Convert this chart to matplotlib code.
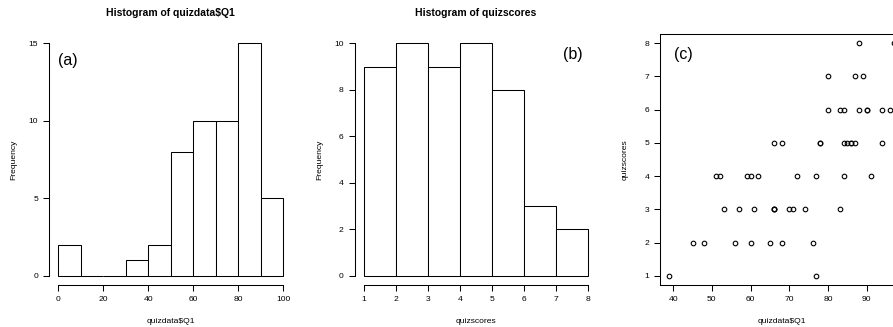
import numpy as np
import matplotlib
matplotlib.use("Agg")
import matplotlib.pyplot as plt

plt.rcParams["font.family"] = ["Liberation Sans", "DejaVu Sans"]

# histogram of quiz 1 percentages
q1_edges = [0, 10, 20, 30, 40, 50, 60, 70, 80, 90, 100]
q1_counts = [2, 0, 0, 1, 2, 8, 10, 10, 15, 5]

# histogram of total quiz scores
score_edges = [1, 2, 3, 4, 5, 6, 7, 8]
score_counts = [9, 10, 9, 10, 8, 3, 2]

# paired observations: quiz 1 percentage vs quiz score
q1_pct = [39, 77,
          45, 48, 56, 60, 65, 68, 76,
          53, 57, 61, 66, 66, 66, 70, 71, 74, 83,
          51, 52, 59, 60, 62, 72, 77, 84, 91,
          66, 68, 78, 78, 84, 85, 86, 86, 87, 94,
          80, 83, 84, 88, 90, 90, 94, 96,
          80, 87, 89,
          88, 97]
quiz_scores = [1, 1,
               2, 2, 2, 2, 2, 2, 2,
               3, 3, 3, 3, 3, 3, 3, 3, 3, 3,
               4, 4, 4, 4, 4, 4, 4, 4, 4,
               5, 5, 5, 5, 5, 5, 5, 5, 5, 5,
               6, 6, 6, 6, 6, 6, 6, 6,
               7, 7, 7,
               8, 8]

W, H = 893, 327
fig = plt.figure(figsize=(W / 100, H / 100), dpi=100)

LW = 0.75
TICK_FS = 6.1
LABEL_FS = 6.1
TITLE_FS = 7.5
TAG_FS = 11.5


def axes_at(left_px, right_px, top_px=34, bottom_px=285):
    return fig.add_axes([left_px / W, 1 - bottom_px / H,
                         (right_px - left_px) / W, (bottom_px - top_px) / H])


def r_extend(lo, hi):
    pad = 0.04 * (hi - lo)
    return lo - pad, hi + pad


def style_axis(ax, xlabel, ylabel):
    ax.tick_params(direction="out", length=4.5, width=LW, labelsize=TICK_FS,
                   pad=3.5, color="black")
    ax.set_xlabel(xlabel, fontsize=LABEL_FS)
    ax.set_ylabel(ylabel, fontsize=LABEL_FS)
    ax.xaxis.set_label_coords(0.5, -0.146)
    ax.yaxis.set_label_coords(-0.146, 0.5)
    ax.xaxis.label.set_va("center")
    ax.yaxis.label.set_va("center")


def draw_hist(ax, edges, counts, title, xlabel, yticks):
    edges = np.asarray(edges)
    ax.bar(edges[:-1], counts, width=np.diff(edges), align="edge",
           facecolor="white", edgecolor="black", linewidth=LW)
    ax.set_xlim(*r_extend(edges[0], edges[-1]))
    ax.set_ylim(*r_extend(0, max(counts)))
    ax.set_yticks(yticks)
    for side in ("top", "right"):
        ax.spines[side].set_visible(False)
    ax.spines["left"].set_bounds(yticks[0], yticks[-1])
    ax.spines["bottom"].set_bounds(edges[0], edges[-1])
    for side in ("left", "bottom"):
        ax.spines[side].set_linewidth(LW)
    ax.set_title(title, fontsize=TITLE_FS, fontweight="bold", pad=12.6)
    style_axis(ax, xlabel, "Frequency")


# (a) quiz 1 percentages
ax1 = axes_at(49.3, 292.3)
draw_hist(ax1, q1_edges, q1_counts, "Histogram of quizdata$Q1", "quizdata$Q1",
          [0, 5, 10, 15])
ax1.set_xticks(q1_edges[::2])
ax1.text(0, 13.9, "(a)", fontsize=TAG_FS, ha="left", va="center")

# (b) quiz scores
ax2 = axes_at(354.7, 597.3)
draw_hist(ax2, score_edges, score_counts, "Histogram of quizscores", "quizscores",
          [0, 2, 4, 6, 8, 10])
ax2.set_xticks(score_edges)
ax2.text(7.83, 9.5, "(b)", fontsize=TAG_FS, ha="right", va="center")

# (c) scatter of quiz 1 vs quiz scores; the right side runs off the canvas
ax3 = axes_at(660.3, 902.9)
ax3.plot(q1_pct, quiz_scores, linestyle="none", marker="o", markersize=3.3,
         markerfacecolor="none", markeredgecolor="black", markeredgewidth=0.8,
         clip_on=False)
ax3.set_xlim(*r_extend(min(q1_pct), max(q1_pct)))
ax3.set_ylim(*r_extend(min(quiz_scores), max(quiz_scores)))
ax3.set_xticks([40, 50, 60, 70, 80, 90])
ax3.set_yticks(range(1, 9))
for sp in ax3.spines.values():
    sp.set_linewidth(LW)
style_axis(ax3, "quizdata$Q1", "quizscores")
ax3.text(40.2, 7.65, "(c)", fontsize=TAG_FS, ha="left", va="center")

fig.savefig("out.png", dpi=100)
